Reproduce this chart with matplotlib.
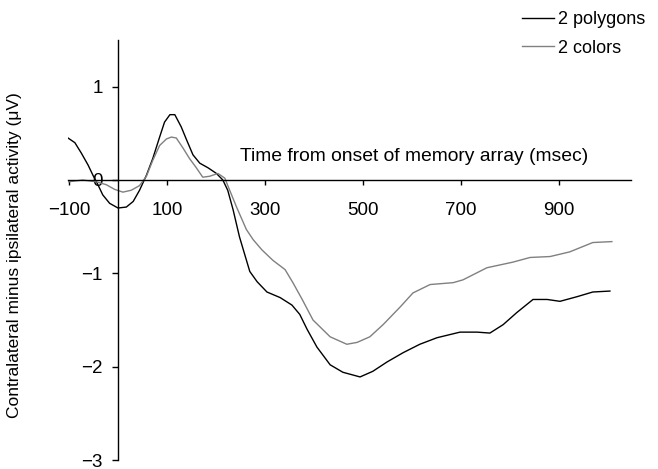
import matplotlib
matplotlib.use("Agg")
import matplotlib.pyplot as plt

plt.rcParams['font.family'] = ['Liberation Sans', 'DejaVu Sans']

# time (ms) and amplitude (uV)
t_poly = [-102, -88, -75, -61, -51, -41, -31, -17, 0, 17, 31, 44, 58, 71, 85,
          95, 106, 116, 129, 140, 153, 167, 184, 201, 214, 224, 235, 248, 269,
          284, 304, 331, 355, 371, 386, 406, 433, 459, 494, 520, 549, 582, 616,
          651, 698, 733, 759, 786, 814, 847, 876, 902, 937, 969, 1004]
v_poly = [0.45, 0.40, 0.29, 0.16, 0.05, -0.05, -0.16, -0.25, -0.30, -0.29,
          -0.23, -0.11, 0.05, 0.23, 0.46, 0.62, 0.70, 0.70, 0.57, 0.43, 0.27,
          0.18, 0.13, 0.07, 0.00, -0.11, -0.32, -0.61, -0.98, -1.09, -1.20,
          -1.26, -1.34, -1.44, -1.60, -1.79, -1.98, -2.06, -2.11, -2.05, -1.95,
          -1.85, -1.76, -1.69, -1.63, -1.63, -1.64, -1.55, -1.42, -1.28, -1.28,
          -1.30, -1.25, -1.20, -1.19]

t_col = [-102, -72, -44, -24, -7, 10, 27, 44, 58, 71, 85, 99, 109, 119, 133,
         146, 160, 173, 187, 204, 218, 228, 242, 262, 276, 294, 316, 341, 357,
         376, 398, 433, 467, 488, 514, 541, 576, 602, 637, 684, 704, 753, 806,
         841, 882, 922, 969, 1008]
v_col = [-0.02, 0.00, -0.02, -0.05, -0.10, -0.13, -0.11, -0.06, 0.04, 0.21,
         0.37, 0.44, 0.46, 0.45, 0.34, 0.23, 0.13, 0.03, 0.04, 0.07, 0.02,
         -0.11, -0.29, -0.53, -0.64, -0.75, -0.86, -0.96, -1.10, -1.28, -1.50,
         -1.68, -1.76, -1.74, -1.68, -1.55, -1.36, -1.21, -1.12, -1.10, -1.07,
         -0.94, -0.88, -0.83, -0.82, -0.77, -0.67, -0.66]

xticks = [-100, 100, 300, 500, 700, 900]
yticks = [1, 0, -1, -2, -3]

W, H = 658, 469
fig = plt.figure(figsize=(W / 100, H / 100), dpi=100)
ax = fig.add_axes([68 / W, 1 - 460 / H, (631 - 68) / W, (460 - 40) / H])

ax.plot(t_poly, v_poly, color='black', lw=1.0, label='2 polygons')
ax.plot(t_col, v_col, color='#808080', lw=1.0, label='2 colors')

ax.set_xlim(-102, 1047)
ax.set_ylim(-3, 1.5)

ax.spines['top'].set_visible(False)
ax.spines['right'].set_visible(False)
ax.spines['left'].set_position(('data', 0))
ax.spines['bottom'].set_position(('data', 0))
ax.spines['left'].set_linewidth(1.0)
ax.spines['bottom'].set_linewidth(1.0)

ax.set_xticks(xticks)
ax.set_yticks(yticks)
ax.set_xticklabels([str(x).replace('-', '\u2212') for x in xticks])
ax.set_yticklabels([str(y).replace('-', '\u2212') for y in yticks])
ax.tick_params(axis='x', direction='out', length=3.5, width=1, pad=12.5, labelsize=13.5)
ax.tick_params(axis='y', direction='out', length=4.5, width=1, pad=6.5, labelsize=13.5)

ax.text(0.615, 0.722, 'Time from onset of memory array (msec)', transform=ax.transAxes,
        ha='center', va='center', fontsize=13.9)

fig.text(15 / W, 1 - 255 / H, 'Contralateral minus ipsilateral activity (\u03bcV)',
         rotation=90, ha='center', va='center', fontsize=12.5)

ax.legend(loc='upper right', bbox_to_anchor=(1 - 4 / W, 1 - 2 / H),
          bbox_transform=fig.transFigure, frameon=False, fontsize=13,
          handlelength=1.8, handletextpad=0.2, labelspacing=0.65, borderpad=0)

fig.savefig('out.png', dpi=100)
